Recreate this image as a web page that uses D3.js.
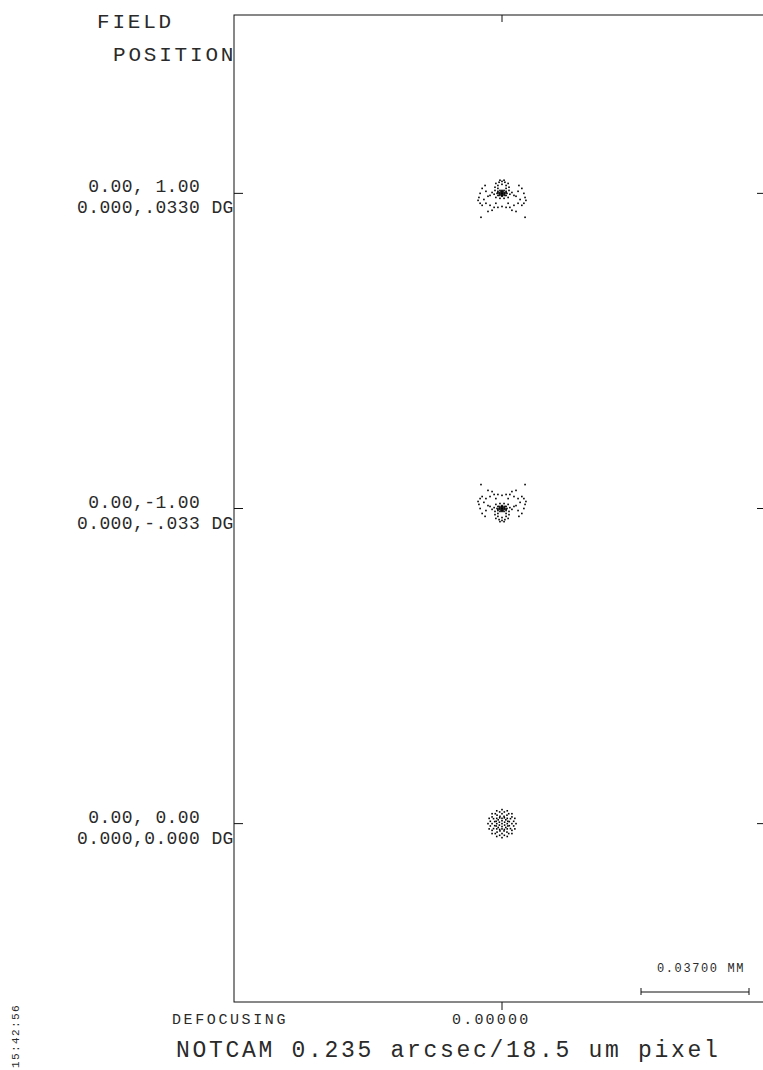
<!DOCTYPE html>
<html><head><meta charset="utf-8">
<script src="https://cdn.jsdelivr.net/npm/d3@7"></script>
<style>
html,body{margin:0;padding:0;background:#fff;}
svg{display:block;}
text{font-family:"Liberation Mono","Courier New",monospace;fill:#2a2a2a;}
</style></head>
<body>
<script>
// ---------- data ----------
const fieldLabels = [" 0.00, 1.00", " 0.00,-1.00", " 0.00, 0.00"];
const fieldAngles = ["0.000,.0330 DG", "0.000,-.033 DG", "0.000,0.000 DG"];
const defocusLabels = ["0.00000"];
const scaleBarMM = 0.037;
const scaleBarLabel = "0.03700 MM";
const title = "NOTCAM 0.235 arcsec/18.5 um pixel";
const timeStamp = "15:42:56";

// ray intercepts in micrometres relative to chief ray (x right, y up)
const spotField1 = [
 [0,0],[0.3,0],[-0.3,0],[0,-0.3],[0,0.3],[0.7,-0.3],[-0.7,-0.3],[0.3,0.7],[-0.3,0.7],[0.7,0.3],[-0.7,0.3],
 [0,-0.7],[1.0,0],[-1.0,0],[0.3,-0.7],[-0.3,-0.7],[1.0,-0.7],[-1.0,-0.7],[1.4,0.3],[-1.4,0.3],
 [1.7,0],[-1.7,0],[0,1.0],[0,-1.0],[1.4,0.7],[-1.4,0.7],[1.4,-0.7],[-1.4,-0.7],[0.7,1.0],[-0.7,1.0],
 [-2.1,3.4],[-1.0,3.8],[0,4.1],[1.0,3.8],[2.1,3.4],[-1.4,2.7],[0,3.1],[1.4,2.7],[-0.7,4.5],[0.7,4.5],[-2.4,2.1],[2.4,2.1],
 [-2.4,1.0],[2.4,1.0],[-2.7,-0.3],[2.7,-0.3],[-2.1,-1.4],[2.1,-1.4],[-1.4,1.7],[1.4,1.7],[-3.4,0.3],[3.4,0.3],
 [-4.1,-0.7],[4.1,-0.7],[-0.7,-1.7],[0.7,-1.7],
 [-6.8,1.7],[6.8,1.7],[-7.5,0],[7.5,0],[-7.9,-1.4],[7.9,-1.4],[-6.2,-2.1],[6.2,-2.1],[-5.5,0.7],[5.5,0.7],
 [-4.8,-1.0],[4.8,-1.0],[-5.8,2.7],[5.8,2.7],
 [-4.1,-4.1],[4.1,-4.1],[-2.7,-4.8],[2.7,-4.8],[-1.4,-4.8],[1.4,-4.8],[0,-4.5],[-5.5,-3.4],[5.5,-3.4],
 [-2.1,-3.4],[2.1,-3.4],[-6.8,-4.1],[6.8,-4.1],[-4.8,-6.2],[4.8,-6.2],[-3.4,-5.8],[3.4,-5.8],
 [-7.2,-8.2],[7.9,-8.2],[-8.2,-2.4],[8.2,-2.4],[-7.5,-3.4],[7.5,-3.4]
];
const spotField2 = [
 [0,0],[0.3,0],[-0.3,0],[0,0.3],[0,-0.3],[0.7,0.3],[-0.7,0.3],[0.3,-0.7],[-0.3,-0.7],[0.7,-0.3],[-0.7,-0.3],
 [0,0.7],[1.0,0],[-1.0,0],[0.3,0.7],[-0.3,0.7],[1.0,0.7],[-1.0,0.7],[1.4,-0.3],[-1.4,-0.3],
 [1.7,0],[-1.7,0],[0,-1.0],[0,1.0],[1.4,-0.7],[-1.4,-0.7],[1.4,0.7],[-1.4,0.7],[0.7,-1.0],[-0.7,-1.0],
 [-2.1,-3.4],[-1.0,-3.8],[0,-4.1],[1.0,-3.8],[2.1,-3.4],[-1.4,-2.7],[0,-3.1],[1.4,-2.7],[-0.7,-4.5],[0.7,-4.5],[-2.4,-2.1],[2.4,-2.1],
 [-2.4,-1.0],[2.4,-1.0],[-2.7,0.3],[2.7,0.3],[-2.1,1.4],[2.1,1.4],[-1.4,-1.7],[1.4,-1.7],[-3.4,-0.3],[3.4,-0.3],
 [-4.1,0.7],[4.1,0.7],[-0.7,1.7],[0.7,1.7],
 [-6.8,-1.7],[6.8,-1.7],[-7.5,0],[7.5,0],[-7.9,1.4],[7.9,1.4],[-6.2,2.1],[6.2,2.1],[-5.5,-0.7],[5.5,-0.7],
 [-4.8,1.0],[4.8,1.0],[-5.8,-2.7],[5.8,-2.7],
 [-4.1,4.1],[4.1,4.1],[-2.7,4.8],[2.7,4.8],[-1.4,4.8],[1.4,4.8],[0,4.5],[-5.5,3.4],[5.5,3.4],
 [-2.1,3.4],[2.1,3.4],[-6.8,4.1],[6.8,4.1],[-4.8,6.2],[4.8,6.2],[-3.4,5.8],[3.4,5.8],
 [-7.2,8.2],[7.9,8.2],[-8.2,2.4],[8.2,2.4],[-7.5,3.4],[7.5,3.4]
];
const spotField3 = [
 [4.8,0],[4.4,1.8],[3.4,3.4],[1.8,4.4],[0,4.8],[-1.8,4.4],[-3.4,3.4],[-4.4,1.8],[-4.8,0],[-4.4,-1.8],[-3.4,-3.4],[-1.8,-4.4],[0,-4.8],[1.8,-4.4],[3.4,-3.4],[4.4,-1.8],
 [4.0,0.8],[3.4,2.3],[2.3,3.4],[0.8,4.0],[-0.8,4.0],[-2.3,3.4],[-3.4,2.3],[-4.0,0.8],[-4.0,-0.8],[-3.4,-2.3],[-2.3,-3.4],[-0.8,-4.0],[0.8,-4.0],[2.3,-3.4],[3.4,-2.3],[4.0,-0.8],
 [3.4,0],[2.9,1.7],[1.7,2.9],[0,3.4],[-1.7,2.9],[-2.9,1.7],[-3.4,0],[-2.9,-1.7],[-1.7,-2.9],[0,-3.4],[1.7,-2.9],[2.9,-1.7],
 [2.5,0.7],[1.8,1.8],[0.7,2.5],[-0.7,2.5],[-1.8,1.8],[-2.5,0.7],[-2.5,-0.7],[-1.8,-1.8],[-0.7,-2.5],[0.7,-2.5],[1.8,-1.8],[2.5,-0.7],
 [2.0,0.8],[0.8,2.0],[-0.8,2.0],[-2.0,0.8],[-2.0,-0.8],[-0.8,-2.0],[0.8,-2.0],[2.0,-0.8],
 [1.8,0],[1.3,1.3],[0,1.8],[-1.3,1.3],[-1.8,0],[-1.3,-1.3],[0,-1.8],[1.3,-1.3],
 [0.9,0.5],[0,1.0],[-0.9,0.5],[-0.9,-0.5],[0,-1.0],[0.9,-0.5],[0,0]
];
const spots = [spotField1, spotField2, spotField3];

// ---------- layout ----------
const W = 763, H = 1070;
const frame = {left: 234, right: 770, top: 15, bottom: 1002};

const svg = d3.select("body").append("svg").attr("width", W).attr("height", H);

const yField = d3.scalePoint().domain(fieldLabels).range([frame.top, frame.bottom]).padding(0.566);
const xDefocus = d3.scalePoint().domain(defocusLabels).range([frame.left, frame.right]).padding(0.5);
// micrometres -> pixels (0.037 mm = 108 px)
const sUm = d3.scaleLinear().domain([0, scaleBarMM * 1000]).range([0, 108]);

// frame
svg.append("rect").attr("x", frame.left).attr("y", frame.top)
  .attr("width", frame.right - frame.left).attr("height", frame.bottom - frame.top)
  .attr("fill", "none").attr("stroke", "#111").attr("stroke-width", 1);

// ticks
const g = svg.append("g").attr("stroke", "#111").attr("stroke-width", 1);
fieldLabels.forEach(f => {
  const y = yField(f);
  g.append("line").attr("x1", frame.left).attr("x2", frame.left + 9).attr("y1", y).attr("y2", y);
  g.append("line").attr("x1", frame.right - 13).attr("x2", frame.right).attr("y1", y).attr("y2", y);
});
defocusLabels.forEach(d => {
  const x = xDefocus(d);
  g.append("line").attr("x1", x).attr("x2", x).attr("y1", frame.top).attr("y2", frame.top + 7);
  g.append("line").attr("x1", x).attr("x2", x).attr("y1", frame.bottom).attr("y2", frame.bottom + 8);
});

// spots
spots.forEach((pts, i) => {
  const cy = yField(fieldLabels[i]);
  const cx = xDefocus(defocusLabels[0]);
  svg.append("g").selectAll("rect").data(pts).join("rect")
    .attr("x", d => cx + sUm(d[0]) - 0.8)
    .attr("y", d => cy - sUm(d[1]) - 0.8)
    .attr("width", 1.6).attr("height", 1.6).attr("fill", "#000");
});

// field labels
fieldLabels.forEach((f, i) => {
  const y = yField(f);
  svg.append("text").attr("x", 77).attr("y", y - 1).attr("xml:space", "preserve")
    .style("font-size", "18px").style("letter-spacing", "0.4px").text(f);
  svg.append("text").attr("x", 77).attr("y", y + 20).attr("xml:space", "preserve")
    .style("font-size", "18px").style("letter-spacing", "0.4px").text(fieldAngles[i]);
});

// header
svg.append("text").attr("x", 97).attr("y", 28).style("font-size", "21px").style("letter-spacing", "2.8px").text("FIELD");
svg.append("text").attr("x", 113).attr("y", 61).style("font-size", "21px").style("letter-spacing", "2.8px").text("POSITION");

// bottom labels
svg.append("text").attr("x", 172).attr("y", 1024).style("font-size", "15px").style("letter-spacing", "2.6px").text("DEFOCUSING");
defocusLabels.forEach(d => {
  svg.append("text").attr("x", xDefocus(d) - 50).attr("y", 1024)
    .style("font-size", "15px").style("letter-spacing", "2.2px").text(d);
});
svg.append("text").attr("x", 176).attr("y", 1057).style("font-size", "23px").style("letter-spacing", "2.7px").text(title);

// scale bar
const barX0 = 641, barY = 992;
const bg = svg.append("g").attr("stroke", "#111").attr("stroke-width", 1);
bg.append("line").attr("x1", barX0).attr("x2", barX0 + sUm(scaleBarMM * 1000)).attr("y1", barY).attr("y2", barY);
bg.append("line").attr("x1", barX0).attr("x2", barX0).attr("y1", barY - 4).attr("y2", barY + 3);
bg.append("line").attr("x1", barX0 + sUm(scaleBarMM * 1000)).attr("x2", barX0 + sUm(scaleBarMM * 1000)).attr("y1", barY - 4).attr("y2", barY + 3);
svg.append("text").attr("x", 657).attr("y", 972).style("font-size", "12px").style("letter-spacing", "1.6px").text(scaleBarLabel);

// timestamp
svg.append("text").attr("transform", "translate(19,1068) rotate(-90)")
  .style("font-size", "11px").style("letter-spacing", "1.4px").text(timeStamp);
</script>
</body></html>
